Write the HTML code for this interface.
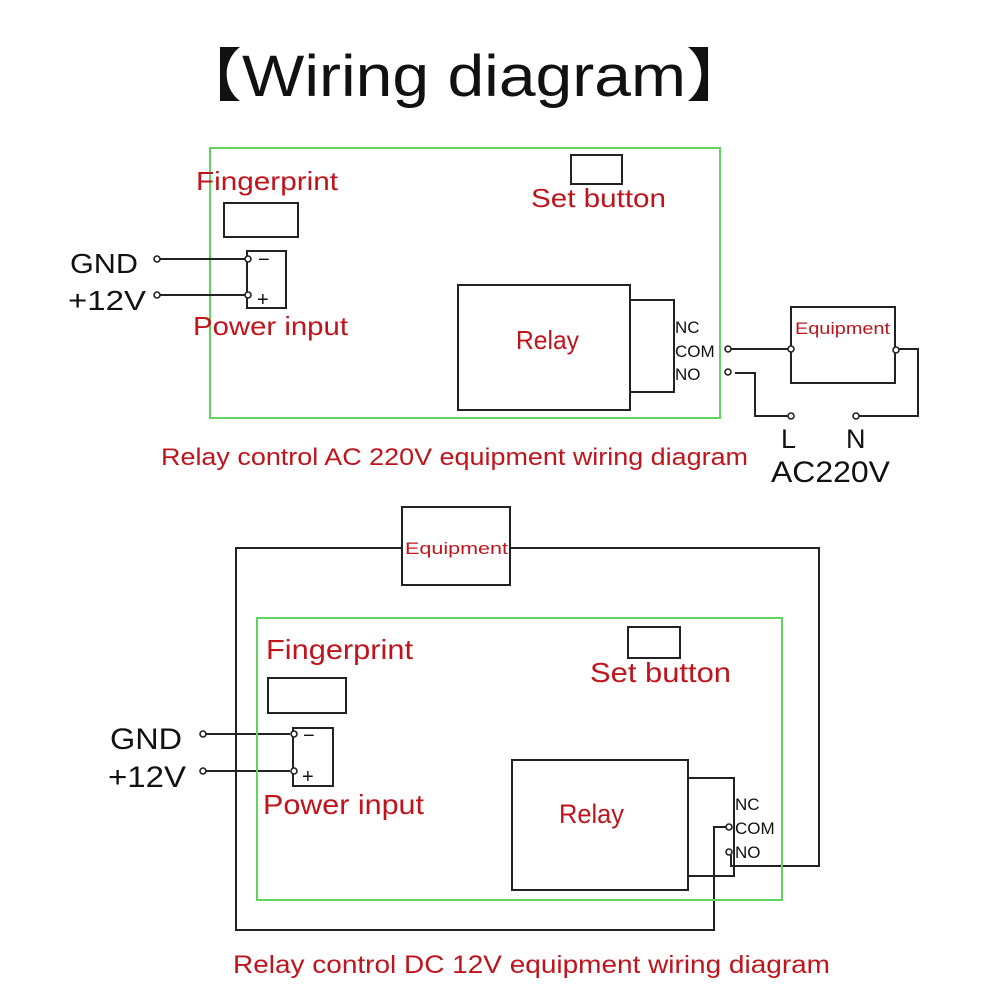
<!DOCTYPE html>
<html><head><meta charset="utf-8"><style>
body{margin:0;background:#fff;}
svg text{font-family:"Liberation Sans","Noto Sans CJK SC",sans-serif;}
.r{fill:#c0141c;}
.k{fill:#111;}
</style></head><body>
<svg width="1000" height="1000" viewBox="0 0 1000 1000" xmlns="http://www.w3.org/2000/svg">
<text x="176" y="96" font-size="58" class="k" textLength="576" lengthAdjust="spacingAndGlyphs">【Wiring diagram】</text>
<g fill="none" stroke-width="2">
<rect x="210" y="148" width="510" height="270" stroke="#5fd45f"/>
<g stroke="#222">
<rect x="571" y="155" width="51" height="29"/>
<rect x="224" y="203" width="74" height="34"/>
<rect x="247" y="251" width="39" height="57"/>
<rect x="458" y="285" width="172" height="125"/>
<rect x="630" y="300" width="44" height="92"/>
<rect x="791" y="307" width="104" height="76"/>
<path d="M160 259H245M160 295H245"/>
<path d="M731 349H788M735 373H755V416H790M858 416H918V349H898"/>
<rect x="402" y="507" width="108" height="78"/>
<rect x="628" y="627" width="52" height="31"/>
<rect x="268" y="678" width="78" height="35"/>
<rect x="293" y="728" width="40" height="58"/>
<rect x="512" y="760" width="176" height="130"/>
<rect x="688" y="778" width="46" height="98"/>
<path d="M206 734H290M206 771H290"/>
<path d="M726 827H714V930H236V548H402M510 548H819V866H731V855"/>
</g>
<rect x="257" y="618" width="525" height="282" stroke="#5fd45f"/>
<g stroke="#222" stroke-width="1.6" fill="#fff">
<circle cx="157" cy="259" r="3"/><circle cx="157" cy="295" r="3"/>
<circle cx="248" cy="259" r="3"/><circle cx="248" cy="295" r="3"/>
<circle cx="728" cy="349" r="3"/><circle cx="728" cy="372" r="3"/>
<circle cx="791" cy="349" r="3"/><circle cx="896" cy="350" r="3"/>
<circle cx="791" cy="416" r="3"/><circle cx="856" cy="416" r="3"/>
<circle cx="203" cy="734" r="3"/><circle cx="203" cy="771" r="3"/>
<circle cx="294" cy="734" r="3"/><circle cx="294" cy="771" r="3"/>
<circle cx="729" cy="827" r="3"/><circle cx="729" cy="852" r="3"/>
</g>
</g>
<g>
<text x="196" y="190" font-size="26" class="r" textLength="142" lengthAdjust="spacingAndGlyphs">Fingerprint</text>
<text x="531" y="207" font-size="26" class="r" textLength="135" lengthAdjust="spacingAndGlyphs">Set button</text>
<text x="193" y="335" font-size="26" class="r" textLength="155" lengthAdjust="spacingAndGlyphs">Power input</text>
<text x="516" y="349" font-size="26" class="r" textLength="63" lengthAdjust="spacingAndGlyphs">Relay</text>
<text x="795" y="334" font-size="17" class="r" textLength="95" lengthAdjust="spacingAndGlyphs">Equipment</text>
<text x="161" y="465" font-size="24" class="r" textLength="587" lengthAdjust="spacingAndGlyphs">Relay control AC 220V equipment wiring diagram</text>
<text x="70" y="273" font-size="28" class="k" textLength="68" lengthAdjust="spacingAndGlyphs">GND</text>
<text x="68" y="310" font-size="28" class="k" textLength="78" lengthAdjust="spacingAndGlyphs">+12V</text>
<text x="258" y="266" font-size="20" class="k">−</text>
<text x="257" y="306" font-size="20" class="k">+</text>
<text x="675" y="333" font-size="17" class="k">NC</text>
<text x="675" y="357" font-size="17" class="k">COM</text>
<text x="675" y="380" font-size="17" class="k">NO</text>
<text x="781" y="448" font-size="27" class="k">L</text>
<text x="846" y="448" font-size="27" class="k">N</text>
<text x="771" y="482" font-size="30" class="k" textLength="119" lengthAdjust="spacingAndGlyphs">AC220V</text>
<text x="405" y="554" font-size="17" class="r" textLength="103" lengthAdjust="spacingAndGlyphs">Equipment</text>
<text x="266" y="659" font-size="28" class="r" textLength="147" lengthAdjust="spacingAndGlyphs">Fingerprint</text>
<text x="590" y="682" font-size="28" class="r" textLength="141" lengthAdjust="spacingAndGlyphs">Set button</text>
<text x="263" y="814" font-size="28" class="r" textLength="161" lengthAdjust="spacingAndGlyphs">Power input</text>
<text x="559" y="823" font-size="27" class="r" textLength="65" lengthAdjust="spacingAndGlyphs">Relay</text>
<text x="233" y="973" font-size="25" class="r" textLength="597" lengthAdjust="spacingAndGlyphs">Relay control DC 12V equipment wiring diagram</text>
<text x="110" y="749" font-size="30" class="k" textLength="72" lengthAdjust="spacingAndGlyphs">GND</text>
<text x="108" y="787" font-size="30" class="k" textLength="78" lengthAdjust="spacingAndGlyphs">+12V</text>
<text x="303" y="742" font-size="20" class="k">−</text>
<text x="302" y="783" font-size="20" class="k">+</text>
<text x="735" y="810" font-size="17" class="k">NC</text>
<text x="735" y="834" font-size="17" class="k">COM</text>
<text x="735" y="858" font-size="17" class="k">NO</text>
</g>
</svg>
</body></html>
